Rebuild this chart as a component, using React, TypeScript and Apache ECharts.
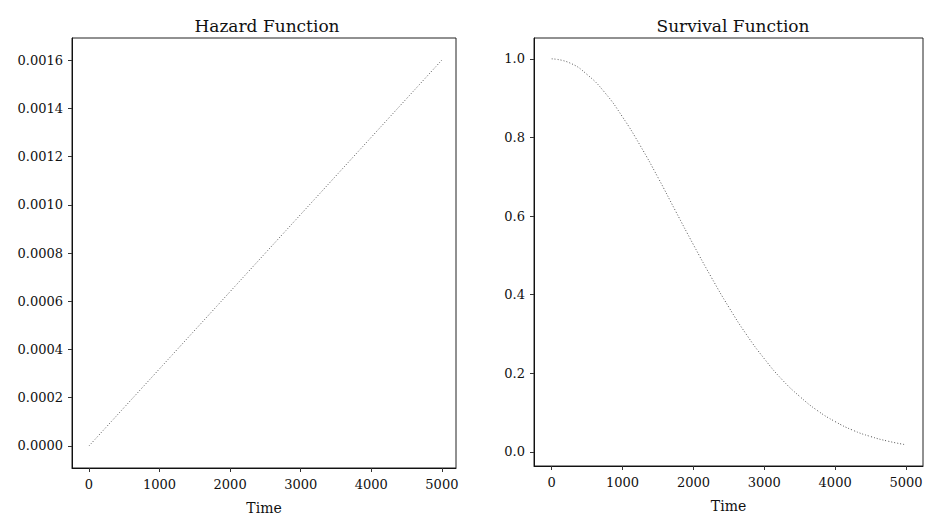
import React, { useEffect, useRef } from "react";
import * as echarts from "echarts";

const timePoints = [0, 250, 500, 750, 1000, 1250, 1500, 1750, 2000, 2250, 2500, 2750, 3000, 3250, 3500, 3750, 4000, 4250, 4500, 4750, 5000];
const hazardValues = [0, 0.00008, 0.00016, 0.00024, 0.00032, 0.0004, 0.00048, 0.00056, 0.00064, 0.00072, 0.0008, 0.00088, 0.00096, 0.00104, 0.00112, 0.0012, 0.00128, 0.00136, 0.00144, 0.00152, 0.0016];
const survivalValues = [1.0, 0.99, 0.96, 0.914, 0.852, 0.779, 0.698, 0.612, 0.527, 0.445, 0.368, 0.298, 0.237, 0.184, 0.141, 0.105, 0.077, 0.055, 0.039, 0.027, 0.018];
const xTicks = [0, 1000, 2000, 3000, 4000, 5000];
const hazardTicks = [0, 0.0002, 0.0004, 0.0006, 0.0008, 0.001, 0.0012, 0.0014, 0.0016];
const survivalTicks = [0, 0.2, 0.4, 0.6, 0.8, 1.0];

const FONT = "DejaVu Serif";

export default function App() {
  const ref = useRef<HTMLDivElement>(null);
  useEffect(() => {
    if (!ref.current) return;
    const chart = echarts.init(ref.current, null, { renderer: "svg" });
    const axisCommon = {
      axisLine: { show: true, onZero: false, lineStyle: { color: "#111", width: 1 } },
      axisTick: { show: true, inside: false, length: 4, lineStyle: { color: "#333" } },
      splitLine: { show: false },
      axisLabel: { color: "#111", fontFamily: FONT, fontSize: 13 },
    };
    const xAxis = (gridIndex: number, min: number, max: number) => ({
      type: "value",
      gridIndex,
      min,
      max,
      name: "Time",
      nameLocation: "middle",
      nameGap: 33,
      nameTextStyle: { color: "#111", fontFamily: FONT, fontSize: 14 },
      ...axisCommon,
      axisTick: { ...axisCommon.axisTick, customValues: xTicks },
      axisLabel: { ...axisCommon.axisLabel, margin: 10, customValues: xTicks, formatter: (v: number) => String(v) },
    });
    chart.setOption({
      animation: false,
      backgroundColor: "#fff",
      title: [
        { text: "Hazard Function", left: 262, top: 12, textAlign: "center", textStyle: { fontFamily: FONT, fontWeight: "normal", fontSize: 17, color: "#111" } },
        { text: "Survival Function", left: 728, top: 12, textAlign: "center", textStyle: { fontFamily: FONT, fontWeight: "normal", fontSize: 17, color: "#111" } },
      ],
      grid: [
        { left: 72, top: 38, width: 384, height: 430, show: true, borderColor: "#222", borderWidth: 1, backgroundColor: "transparent", outerBoundsMode: "none", containLabel: false },
        { left: 534, top: 38, width: 389, height: 428, show: true, borderColor: "#222", borderWidth: 1, backgroundColor: "transparent", outerBoundsMode: "none", containLabel: false },
      ],
      xAxis: [xAxis(0, -240, 5200), xAxis(1, -250, 5240)],
      yAxis: [
        {
          type: "value",
          gridIndex: 0,
          min: -0.0000912,
          max: 0.0016912,
          ...axisCommon,
          axisTick: { ...axisCommon.axisTick, customValues: hazardTicks },
          axisLabel: { ...axisCommon.axisLabel, margin: 9, customValues: hazardTicks, formatter: (v: number) => v.toFixed(4) },
        },
        {
          type: "value",
          gridIndex: 1,
          min: -0.036,
          max: 1.053,
          ...axisCommon,
          axisTick: { ...axisCommon.axisTick, customValues: survivalTicks },
          axisLabel: { ...axisCommon.axisLabel, margin: 9, customValues: survivalTicks, formatter: (v: number) => v.toFixed(1) },
        },
      ],
      series: [
        {
          type: "line",
          xAxisIndex: 0,
          yAxisIndex: 0,
          data: timePoints.map((t, i) => [t, hazardValues[i]]),
          showSymbol: false,
          smooth: true,
          lineStyle: { color: "#555", width: 1, type: [1, 2] },
        },
        {
          type: "line",
          xAxisIndex: 1,
          yAxisIndex: 1,
          data: timePoints.map((t, i) => [t, survivalValues[i]]),
          showSymbol: false,
          smooth: true,
          lineStyle: { color: "#555", width: 1, type: [1, 2] },
        },
      ],
    });
    return () => chart.dispose();
  }, []);
  return <div ref={ref} style={{ position: "fixed", left: 0, top: 0, width: 925, height: 516 }} />;
}
